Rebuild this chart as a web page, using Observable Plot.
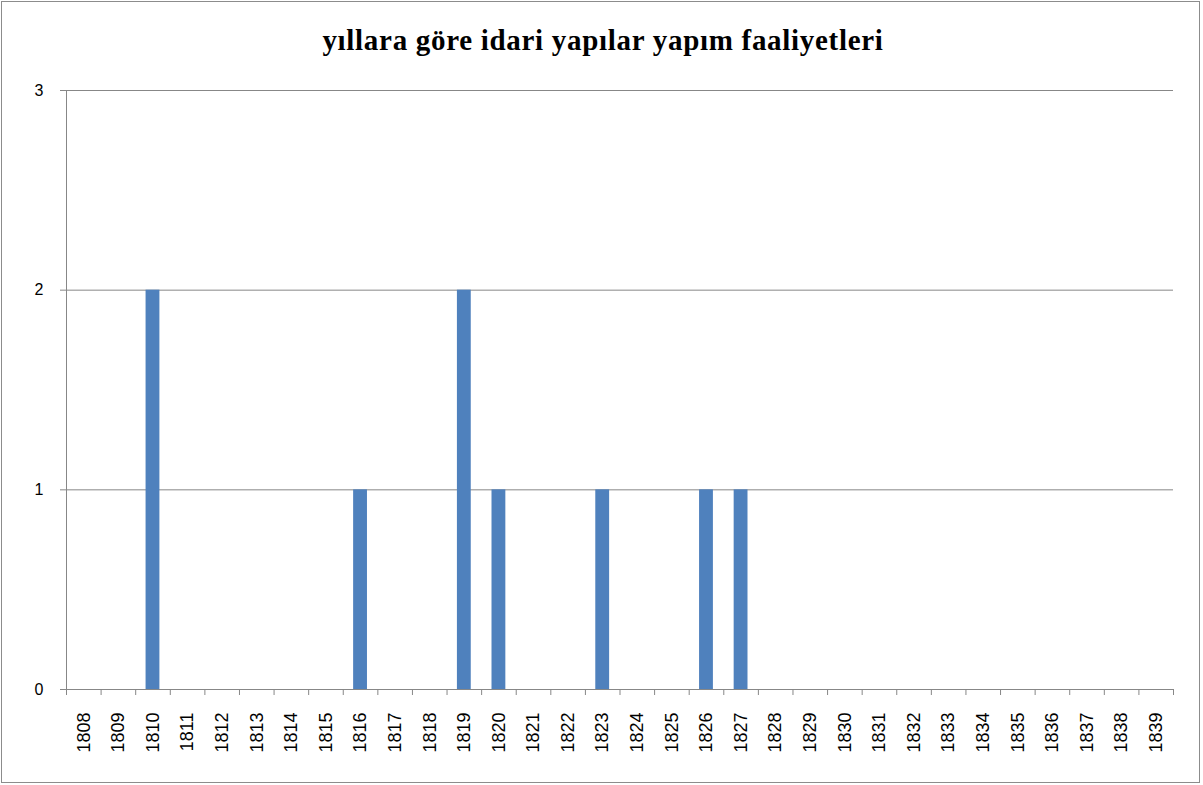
<!DOCTYPE html>
<html>
<head>
<meta charset="utf-8">
<script src="https://cdn.jsdelivr.net/npm/d3@7"></script>
<script src="https://cdn.jsdelivr.net/npm/@observablehq/plot@0.6"></script>
<style>
  html, body { margin: 0; padding: 0; background: #fff; }
  #wrap { position: relative; width: 1203px; height: 785px; overflow: hidden; }
  #border { position: absolute; left: 1px; top: 1px; width: 1197px; height: 780px; border: 1px solid #8c8c8c; }
  #title { position: absolute; left: 0; width: 1206px; top: 26px; text-align: center;
           font-family: "Liberation Serif", "Times New Roman", serif; font-weight: bold; font-size: 29px;
           letter-spacing: 0.7px; line-height: 1; color: #000; }
  #chart { position: absolute; left: 0; top: 0; }
  #chart g[aria-label="x-axis tick label"] { font-size: 18px; }
  #chart g[aria-label="y-axis tick label"] { font-size: 16px; }
</style>
</head>
<body>
<div id="wrap">
  <div id="border"></div>
  <div id="title">yıllara göre idari yapılar yapım faaliyetleri</div>
  <div id="chart"></div>
</div>
<script>
const years = ["1808","1809","1810","1811","1812","1813","1814","1815","1816","1817","1818","1819","1820","1821","1822","1823",
               "1824","1825","1826","1827","1828","1829","1830","1831","1832","1833","1834","1835","1836","1837","1838","1839"];
const counts = [0,0,2,0,0,0,0,0,1,0,0,2,1,0,0,1,
                0,0,1,1,0,0,0,0,0,0,0,0,0,0,0,0];
const yTicks = [0, 1, 2, 3];
const gridValues = [1, 2, 3];

const data = years.map((y, i) => ({year: y, count: counts[i]}));

const W = 1203, H = 785, ML = 66, MR = 30, MT = 90, MB = 96;
const step = (W - ML - MR) / years.length;
const barInset = step * 0.3;
const gray = "#878787";

const plot = Plot.plot({
  width: W, height: H,
  marginLeft: ML, marginRight: MR, marginTop: MT, marginBottom: MB,
  style: {fontFamily: "'Liberation Sans', Arial, sans-serif", fontSize: "15px", color: "#000", background: "transparent"},
  x: {type: "band", domain: years, padding: 0, round: false, label: null},
  y: {domain: [0, 3], label: null},
  marks: [
    Plot.ruleY(gridValues, {y: d => d, stroke: gray, strokeWidth: 1}),
    Plot.ruleY([0], {stroke: gray, strokeWidth: 1}),
    Plot.frame({anchor: "left", stroke: gray, strokeWidth: 1}),
    Plot.barY(data, {x: "year", y: "count", fill: "#4F81BD", insetLeft: barInset, insetRight: barInset}),
    Plot.ruleX(years, {x: d => d, y1: 0, y2: 0, insetBottom: -6, dx: -step / 2, stroke: gray}),
    Plot.ruleX([years[years.length - 1]], {x: d => d, y1: 0, y2: 0, insetBottom: -6, dx: step / 2, stroke: gray}),
    Plot.axisY({ticks: yTicks, tickSize: 6, tickPadding: 17, stroke: gray, tickFormat: d => String(d),
                fill: "#000", label: null, fontSize: 16}),
    Plot.axisX({tickSize: 0, tickPadding: 23, tickRotate: -90, fill: "#000", label: null, fontSize: 18})
  ]
});
document.getElementById("chart").appendChild(plot);
</script>
</body>
</html>
